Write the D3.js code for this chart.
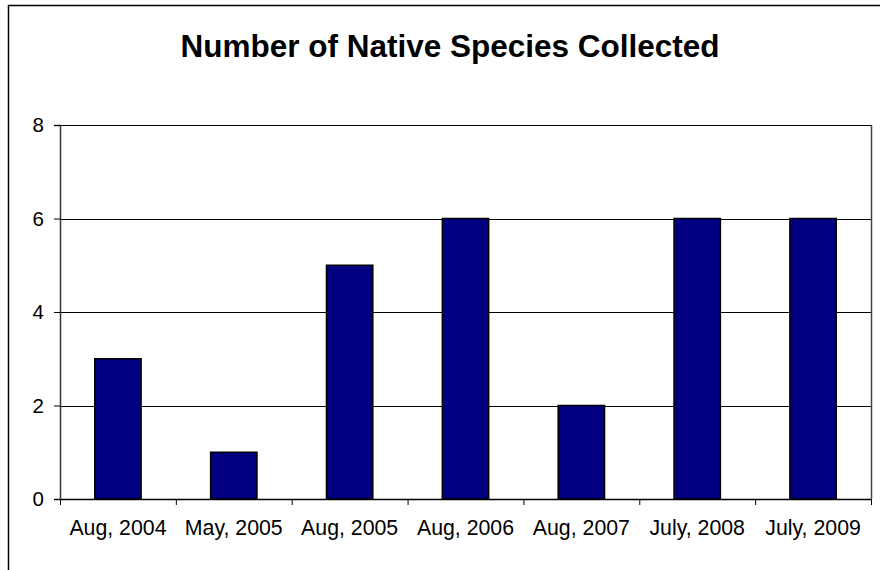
<!DOCTYPE html>
<html>
<head>
<meta charset="utf-8">
<script src="https://cdn.jsdelivr.net/npm/d3@7"></script>
<style>
  html, body { margin: 0; padding: 0; background: #fff; }
  svg { display: block; }
  text { font-family: "Liberation Sans", Arial, sans-serif; fill: #000; }
</style>
</head>
<body>
<svg id="chart" width="880" height="570"></svg>
<script>
// Survey dates and the count of native species found on each
const categories = ["Aug, 2004", "May, 2005", "Aug, 2005", "Aug, 2006", "Aug, 2007", "July, 2008", "July, 2009"];
const speciesCounts = [3, 1, 5, 6, 2, 6, 6];
const yTicks = [0, 2, 4, 6, 8];
const chartTitle = "Number of Native Species Collected";

const svg = d3.select("#chart");
const plot = { left: 60, right: 871, top: 125, bottom: 499 };

// Outer chart frame (runs past the right and bottom of the view)
svg.append("rect")
  .attr("x", 8.5).attr("y", 5.5)
  .attr("width", 900).attr("height", 600)
  .attr("fill", "none").attr("stroke", "#000").attr("stroke-width", 1.5);

const x = d3.scaleBand().domain(categories).range([plot.left, plot.right]).padding(0);
const y = d3.scaleLinear().domain([0, 8]).range([plot.bottom, plot.top]);

// Horizontal gridlines
svg.append("g")
  .selectAll("line")
  .data(yTicks.filter(d => d > 0))
  .join("line")
  .attr("x1", plot.left).attr("x2", plot.right)
  .attr("y1", d => Math.round(y(d)) + 0.5).attr("y2", d => Math.round(y(d)) + 0.5)
  .attr("stroke", "#000").attr("stroke-width", 1);

// Right edge of the plot area
svg.append("line")
  .attr("x1", plot.right + 0.5).attr("x2", plot.right + 0.5)
  .attr("y1", plot.top).attr("y2", plot.bottom)
  .attr("stroke", "#444").attr("stroke-width", 1.5);

// Bars: 40% of each category slot, centred
const barFrac = 0.4;
svg.append("g")
  .selectAll("rect")
  .data(speciesCounts)
  .join("rect")
  .attr("x", (d, i) => x(categories[i]) + x.bandwidth() * (1 - barFrac) / 2)
  .attr("width", x.bandwidth() * barFrac)
  .attr("y", d => y(d))
  .attr("height", d => y(0) - y(d))
  .attr("fill", "#000080")
  .attr("stroke", "#000").attr("stroke-width", 1.5);

// Y axis
const yAxis = d3.axisLeft(y).tickValues(yTicks).tickSize(6).tickPadding(10).tickFormat(d3.format("d"));
const gy = svg.append("g").attr("transform", `translate(${plot.left},0)`).call(yAxis);
gy.select(".domain").attr("stroke", "#333").attr("stroke-width", 1.5);
gy.selectAll(".tick line").attr("stroke", "#000");
gy.selectAll(".tick text").attr("font-size", 20.5).attr("font-family", "Liberation Sans, Arial, sans-serif");

// X axis: ticks sit on the category boundaries
const xAxis = d3.axisBottom(x).tickSize(0).tickPadding(21);
const gx = svg.append("g").attr("transform", `translate(0,${plot.bottom})`).call(xAxis);
gx.select(".domain").attr("stroke", "#000").attr("stroke-width", 1.5);
gx.selectAll(".tick text").attr("font-size", 21.3).attr("font-family", "Liberation Sans, Arial, sans-serif");

svg.append("g")
  .selectAll("line")
  .data(d3.range(categories.length + 1))
  .join("line")
  .attr("x1", i => plot.left + i * x.step() + 0.5)
  .attr("x2", i => plot.left + i * x.step() + 0.5)
  .attr("y1", plot.bottom).attr("y2", plot.bottom + 6)
  .attr("stroke", "#000");

// Title
svg.append("text")
  .attr("x", 450).attr("y", 57)
  .attr("text-anchor", "middle")
  .attr("font-size", 31.5).attr("font-weight", "bold")
  .text(chartTitle);
</script>
</body>
</html>
